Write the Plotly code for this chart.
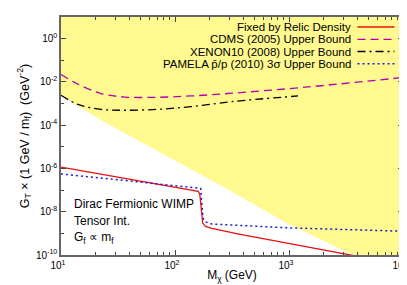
import plotly.graph_objects as go

# ---------------- data ----------------
relic_x = [10, 100, 160, 165, 175, 185, 210, 355, 1000, 3630, 10000]
relic_y = [1.15e-6, 1.35e-7, 8.7e-8, 6.5e-8, 3.0e-9, 2.1e-9, 1.7e-9, 9.5e-10, 3.4e-10, 1.0e-10, 3.5e-11]

cdms_x = [10, 14.1, 22.4, 36.3, 70.8, 138, 316, 1550, 10000]
cdms_y = [2.2e-2, 7.8e-3, 2.9e-3, 2.0e-3, 1.95e-3, 2.24e-3, 3.0e-3, 6.0e-3, 1.6e-2]

xenon_x = [10, 14.1, 22.4, 36.3, 70.8, 138, 316, 1200]
xenon_y = [2.4e-3, 9.1e-4, 5.4e-4, 4.9e-4, 5.4e-4, 7.2e-4, 1.23e-3, 2.24e-3]

pamela_x = [10, 100, 158, 168, 176, 185, 210, 355, 1000, 3160, 10000]
pamela_y = [5.6e-7, 1.66e-7, 1.3e-7, 1.2e-7, 5.0e-9, 3.4e-9, 2.7e-9, 2.3e-9, 1.8e-9, 1.5e-9, 1.26e-9]

excl_x = [10, 24, 87, 288, 977, 3630, 10000]
excl_y = [2.4e-3, 1.41e-4, 3.5e-6, 1.12e-7, 2.8e-9, 1.0e-10, 1.0e-11]
x_min, x_max = 10, 1e4
y_min, y_max = 1e-10, 10

x_tickvals = [10, 100, 1000, 10000]
x_ticktext = ["10<sup>1</sup>", "10<sup>2</sup>", "10<sup>3</sup>", "10<sup>4</sup>"]
y_tickvals = [1e-10, 1e-8, 1e-6, 1e-4, 1e-2, 1]
y_ticktext = ["10<sup>-10</sup>", "10<sup>-8</sup>", "10<sup>-6</sup>", "10<sup>-4</sup>",
              "10<sup>-2</sup>", "10<sup>0</sup>"]

legend_labels = [
    "Fixed by Relic Density",
    "CDMS (2005) Upper Bound",
    "XENON10 (2008) Upper Bound",
    "PAMELA p\u0304/p (2010) 3\u03c3 Upper Bound",
]

RED = "#e81010"
MAG = "#b400b4"
BLK = "#000000"
BLU = "#1a1ad0"
YEL = "#fff98f"

fig = go.Figure()

# excluded (yellow) region
fig.add_trace(go.Scatter(
    x=excl_x + [x_max * 10, x_max * 10, x_min / 10, x_min / 10],
    y=excl_y + [excl_y[-1], y_max * 10, y_max * 10, excl_y[0]],
    fill="toself", fillcolor=YEL, mode="lines", line=dict(width=0),
    showlegend=False, hoverinfo="skip"))

fig.add_trace(go.Scatter(x=relic_x, y=relic_y, mode="lines",
                         line=dict(color=RED, width=1.3), showlegend=False))
fig.add_trace(go.Scatter(x=cdms_x, y=cdms_y, mode="lines",
                         line=dict(color=MAG, width=1.3, dash="8px,5px", shape="spline"),
                         showlegend=False))
fig.add_trace(go.Scatter(x=xenon_x, y=xenon_y, mode="lines",
                         line=dict(color=BLK, width=1.3, dash="8px,4px,2px,4px", shape="spline"),
                         showlegend=False))
fig.add_trace(go.Scatter(x=pamela_x, y=pamela_y, mode="lines",
                         line=dict(color=BLU, width=1.5, dash="2px,3px"),
                         showlegend=False))

# manual legend (gnuplot style: text right, sample to the right)
styles = [(RED, "solid", 1.3), (MAG, "8px,5px", 1.3), (BLK, "8px,4px,2px,4px", 1.3), (BLU, "2px,3px", 1.5)]
leg_y = [0.958, 0.906, 0.855, 0.804]
for lab, (c, d, w), yy in zip(legend_labels, styles, leg_y):
    fig.add_annotation(x=0.853, y=yy, xref="paper", yref="paper", text=lab,
                       showarrow=False, xanchor="right", yanchor="middle",
                       font=dict(size=11.5, color="black"))
    fig.add_shape(type="line", xref="paper", yref="paper", x0=0.867, x1=0.975,
                  y0=yy, y1=yy, line=dict(color=c, dash=d, width=w))

# text labels
for t, yy in [("Dirac Fermionic WIMP", 0.215), ("Tensor Int.", 0.143),
              ("G<sub>f</sub> \u221d m<sub>f</sub>", 0.07)]:
    fig.add_annotation(x=0.032, y=yy, xref="paper", yref="paper", text=t,
                       showarrow=False, xanchor="left", yanchor="middle",
                       font=dict(size=12, color="black"))

axis_common = dict(showgrid=False, zeroline=False, ticks="inside", mirror="allticks",
                   showline=True, linecolor="#666666", linewidth=1.5,
                   tickcolor="#444444", ticklen=5, automargin=False,
                   tickfont=dict(size=10, color="black"))

fig.update_xaxes(type="log", range=[1, 4], tickvals=x_tickvals, ticktext=x_ticktext,
                 ticklabelshift=-3,
                 minor=dict(dtick="D1", ticks="inside", ticklen=3, tickcolor="#444444"),
                 title=dict(text="M<sub>\u03c7</sub> (GeV)", font=dict(size=12, color="black"), standoff=1),
                 **axis_common)
fig.update_yaxes(type="log", range=[-10, 1], tickvals=y_tickvals, ticktext=y_ticktext,
                 minor=dict(dtick=1, ticks="inside", ticklen=3, tickcolor="#444444"),
                 title=dict(text="G<sub>T</sub> \u00d7 (1 GeV / m<sub>f</sub>)  (GeV<sup>-2</sup>)",
                            font=dict(size=12.5, color="black"), standoff=4),
                 **axis_common)

fig.update_layout(width=407, height=285, margin=dict(l=53, r=12, t=9, b=38),
                  plot_bgcolor="white", paper_bgcolor="white",
                  font=dict(family="Liberation Sans, Arial, sans-serif"))

fig.write_html("out.html")
